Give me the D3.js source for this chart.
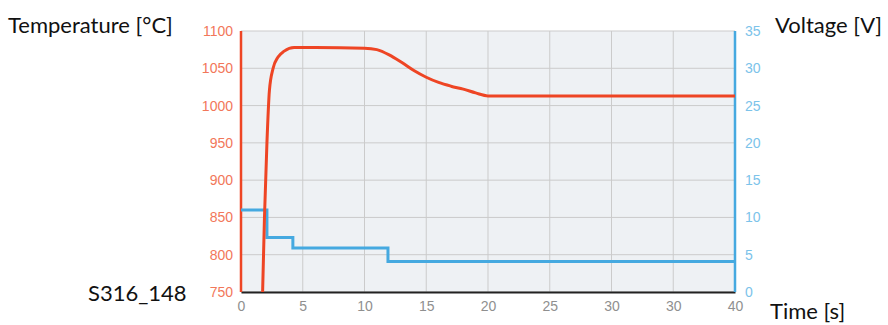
<!DOCTYPE html>
<html>
<head>
<meta charset="utf-8">
<script src="https://cdn.jsdelivr.net/npm/d3@7"></script>
<style>
  body { margin: 0; background: #fff; }
  svg { display: block; }
  .lbl { font-family: "Lato", "DejaVu Sans", sans-serif; fill: #111; }
  .tick-t { font-family: "Liberation Sans", Arial, sans-serif; }
</style>
</head>
<body>
<div id="chart"></div>
<script>
// time axis
const timeTicks = [0, 5, 10, 15, 20, 25, 30, 35, 40];
const timeTickLabels = ["0", "5", "10", "15", "20", "25", "30", "30", "40"];

// temperature curve
const tempTime = [1.75, 1.9, 2.1, 2.3, 2.6, 3.0, 3.5, 4.3, 6, 10, 11, 12, 13, 14, 15, 16, 17, 18, 19, 20, 40];
const tempValue = [750, 850, 950, 1020, 1050, 1065, 1073, 1078, 1078, 1077, 1075, 1068, 1058, 1047, 1038, 1031, 1026, 1022, 1017, 1013, 1013];
const tempTicks = [750, 800, 850, 900, 950, 1000, 1050, 1100];

// voltage steps
const voltTime = [0, 2.1, 4.2, 11.9, 40];
const voltValue = [11, 7.3, 5.9, 4.1, 4.1];
const voltTicks = [0, 5, 10, 15, 20, 25, 30, 35];

const width = 888, height = 325;
const margin = { left: 241, right: 888 - 735, top: 31, bottom: 325 - 292 };
const innerW = width - margin.left - margin.right;
const innerH = height - margin.top - margin.bottom;

const red = "#ee4524";
const blue = "#45a9e0";

let svg = d3.select("#chart")
    .append("svg")
    .attr("width", width)
    .attr("height", height);

let g = svg.append("g")
    .attr("transform", `translate(${margin.left},${margin.top})`);

const x = d3.scaleLinear().domain([0, 40]).range([0, innerW]);
const yT = d3.scaleLinear().domain([750, 1100]).range([innerH, 0]);
const yV = d3.scaleLinear().domain([0, 35]).range([innerH, 0]);

//plot background
g.append("rect")
    .attr("width", innerW)
    .attr("height", innerH)
    .attr("fill", "#eef1f4");

//grid
g.append("g")
    .selectAll("line")
    .data(timeTicks)
    .enter()
    .append("line")
    .attr("x1", (d) => x(d))
    .attr("x2", (d) => x(d))
    .attr("y1", 0)
    .attr("y2", innerH)
    .attr("stroke", "#cbcbcb")
    .attr("stroke-width", 1);

g.append("g")
    .selectAll("line")
    .data(tempTicks)
    .enter()
    .append("line")
    .attr("x1", 0)
    .attr("x2", innerW)
    .attr("y1", (d) => yT(d))
    .attr("y2", (d) => yT(d))
    .attr("stroke", "#cbcbcb")
    .attr("stroke-width", 1);

//axes
const xAxis = g.append("g")
    .attr("transform", `translate(0,${innerH})`)
    .call(d3.axisBottom(x).tickValues(timeTicks).tickSize(0).tickPadding(9)
        .tickFormat((d, i) => timeTickLabels[i]));
xAxis.select(".domain").attr("stroke", "#222").attr("stroke-width", 2);
xAxis.selectAll("text").attr("class", "tick-t").attr("fill", "#8f8f8f").style("font-size", "14px");

const yAxisL = g.append("g")
    .call(d3.axisLeft(yT).tickValues(tempTicks).tickSize(0).tickPadding(8).tickFormat(d3.format("d")));
yAxisL.select(".domain").remove();
yAxisL.selectAll("text").attr("class", "tick-t").attr("fill", "#f2775a").style("font-size", "14px");

const yAxisR = g.append("g")
    .attr("transform", `translate(${innerW},0)`)
    .call(d3.axisRight(yV).tickValues(voltTicks).tickSize(0).tickPadding(10));
yAxisR.select(".domain").remove();
yAxisR.selectAll("text").attr("class", "tick-t").attr("fill", "#7cc3ea").style("font-size", "14px");

//axis lines in series colours
g.append("line")
    .attr("x1", 0).attr("x2", 0)
    .attr("y1", 0).attr("y2", innerH)
    .attr("stroke", red).attr("stroke-width", 2.5);
g.append("line")
    .attr("x1", innerW).attr("x2", innerW)
    .attr("y1", 0).attr("y2", innerH)
    .attr("stroke", blue).attr("stroke-width", 2.5);

//series
const voltData = voltTime.map((t, i) => ({ t: t, v: voltValue[i] }));
const tempData = tempTime.map((t, i) => ({ t: t, v: tempValue[i] }));

g.append("path")
    .datum(voltData)
    .attr("fill", "none")
    .attr("stroke", blue)
    .attr("stroke-width", 3)
    .attr("d", d3.line().x((d) => x(d.t)).y((d) => yV(d.v)).curve(d3.curveStepAfter));

g.append("path")
    .datum(tempData)
    .attr("fill", "none")
    .attr("stroke", red)
    .attr("stroke-width", 3)
    .attr("d", d3.line().x((d) => x(d.t)).y((d) => yT(d.v)).curve(d3.curveMonotoneX));

//titles
svg.append("text").attr("class", "lbl").attr("x", 8).attr("y", 33)
    .style("font-size", "22px").text("Temperature [°C]");
svg.append("text").attr("class", "lbl").attr("x", 775).attr("y", 33)
    .style("font-size", "22px").text("Voltage [V]");
svg.append("text").attr("class", "lbl").attr("x", 770).attr("y", 319)
    .style("font-size", "22px").text("Time [s]");
svg.append("text").attr("class", "lbl").attr("x", 88).attr("y", 301)
    .style("font-size", "22px").text("S316_148");
</script>
</body>
</html>
